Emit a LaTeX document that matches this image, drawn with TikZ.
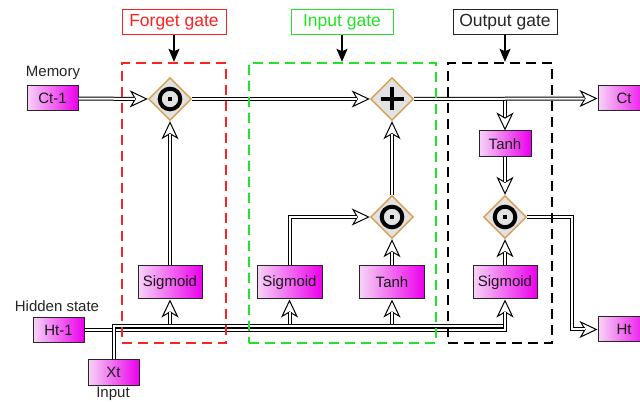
\documentclass[tikz,border=0pt]{standalone}
\usepackage{fontspec}
\setmainfont{Liberation Sans}
\usetikzlibrary{arrows.meta,shapes.geometric,calc}
\definecolor{magA}{RGB}{246,212,246}
\definecolor{magB}{RGB}{236,0,236}
\definecolor{dtan}{RGB}{214,160,84}
\definecolor{dgrey}{RGB}{226,226,226}
\definecolor{gred}{RGB}{255,32,32}
\definecolor{ggreen}{RGB}{34,228,34}
\tikzset{
  mbox/.style={draw=black!85, line width=1pt, left color=magA, right color=magB,
    inner sep=0pt, text=black!90, font=\fontsize{15}{17}\selectfont},
  lbl/.style={inner sep=0pt, text=black!85, font=\fontsize{15}{17}\selectfont},
  gate/.style={diamond, aspect=1, minimum width=43pt, minimum height=43pt, inner sep=0pt,
    draw=dtan, line width=1.4pt, fill=dgrey},
  tipl/.style={line width=1pt, -{Stealth[length=18pt,width=17pt,inset=5pt,fill=white]}},
  dl/.style={double=white, double distance=2pt, line width=1pt},
  dla/.style={dl, shorten >=13pt},
  dbox/.style={dash pattern=on 10pt off 6pt, line width=2.4pt, inner sep=0pt, minimum height=280pt},
  glbl/.style={line width=1pt, inner sep=0pt, minimum height=25pt, font=\fontsize{17.5}{20}\selectfont},
  larr/.style={line width=1.3pt, -{Stealth[length=13pt,width=11pt,inset=2.5pt]}}
}
\newcommand\cn[1]{\draw[tipl] #1; \draw[dla] #1;}
\newcommand\dotsym[1]{\draw[line width=4pt] (#1) circle[radius=10.3pt];
  \fill (#1) ++(-2.4pt,-2.4pt) rectangle ++(4.8pt,4.8pt);}
\newcommand\plussym[1]{\draw[line width=4.2pt] ($(#1)+(-11.5pt,0pt)$) -- ++(23pt,0pt);
  \draw[line width=4.2pt] ($(#1)+(0pt,-11.5pt)$) -- ++(0pt,23pt);}
\begin{document}
\begin{tikzpicture}[x=1pt,y=-1pt]
\useasboundingbox (0,0) rectangle (640,403);
\fill[white] (0,0) rectangle (640,403);
\clip (0,0) rectangle (640,403);

% boxes and labels
\node[mbox, minimum width=51pt, minimum height=25pt] (ct1) at (52.5,98.5) {Ct-1};
\node[lbl] (mem) at (53,73) {Memory};
\node[gate] (mulF) at (170,99) {};
\node[gate] (add) at (392,99) {};
\node[mbox, minimum width=52pt, minimum height=25pt] (ct) at (624,98.5) {Ct};
\node[mbox, minimum width=52pt, minimum height=26pt] (tanhO) at (505,144) {Tanh};
\node[gate] (mulI) at (392,217) {};
\node[gate] (mulO) at (505,217) {};
\node[mbox, minimum width=64pt, minimum height=33pt] (sigF) at (170,282.5) {Sigmoid};
\node[mbox, minimum width=65pt, minimum height=33pt] (sigI) at (289.5,282.5) {Sigmoid};
\node[mbox, minimum width=65pt, minimum height=33pt] (tanhI) at (392,282.5) {Tanh};
\node[mbox, minimum width=64pt, minimum height=33pt] (sigO) at (505,282.5) {Sigmoid};
\node[mbox, minimum width=51pt, minimum height=25pt] (ht1) at (58.5,330) {Ht-1};
\node[lbl] (hid) at (57,306) {Hidden state};
\node[mbox, minimum width=51pt, minimum height=26pt] (xt) at (113.5,372) {Xt};
\node[lbl] (inp) at (113,394) {Input};
\node[mbox, minimum width=52pt, minimum height=25pt] (ht) at (624,329.5) {Ht};

\dotsym{mulF}
\dotsym{mulI}
\dotsym{mulO}
\plussym{add}

% coordinates
\coordinate (brO) at (505,99);
\coordinate (outc) at (572,217);
\coordinate (busT) at (0,326.5);
\coordinate (busH) at (505,330);
\coordinate (xend) at (503,326);

% connectors
\cn{(brO) -- (tanhO.north)}
\cn{(ct1.east) -- (mulF.west)}
\cn{(mulF.east) -- (add.west)}
\cn{(add.east) -- (ct.west)}
\cn{(tanhO.south) -- (mulO.north)}
\cn{(sigO.north) -- (mulO.south)}
\cn{(tanhI.north) -- (mulI.south)}
\cn{(mulI.north) -- (add.south)}
\cn{(sigI.north) |- (mulI.west)}
\cn{(sigF.north) -- (mulF.south)}
\cn{(mulO.east) -- (outc) |- (ht.west)}
\cn{(sigF.south |- busT) -- (sigF.south)}
\cn{(sigI.south |- busT) -- (sigI.south)}
\cn{(tanhI.south |- busT) -- (tanhI.south)}
\cn{(ht1.east) -- (busH) -- (sigO.south)}
\draw[dl] (xt.north) |- (xend);

% dashed gate regions
\node[dbox, draw=gred, minimum width=104pt] (fbox) at (174,203) {};
\node[dbox, draw=ggreen, minimum width=187pt] (ibox) at (342.5,203) {};
\node[dbox, draw=black, minimum width=104pt] (obox) at (500,203) {};

% gate labels
\node[glbl, draw=gred, text=gred, minimum width=104pt] (lf) at (174,22.5) {Forget gate};
\node[glbl, draw=ggreen, text=ggreen, minimum width=102pt] (li) at (342,22.5) {Input gate};
\node[glbl, draw=black!85, text=black!85, minimum width=104pt] (lo) at (505,22.5) {Output gate};
\draw[larr] (lf.south) -- (lf.south |- fbox.north);
\draw[larr] (li.south) -- (li.south |- ibox.north);
\draw[larr] (lo.south) -- (lo.south |- obox.north);
\end{tikzpicture}
\end{document}
